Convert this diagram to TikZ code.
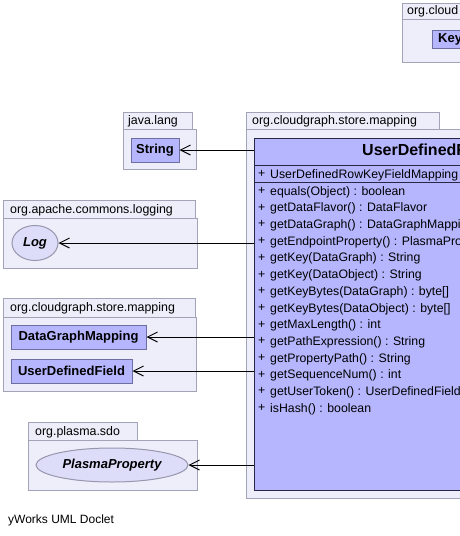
\documentclass[tikz,border=0pt]{standalone}
\usepackage{fontspec}
\setmainfont{Liberation Sans}
\usetikzlibrary{arrows.meta,shapes.geometric}
\definecolor{pkgfill}{RGB}{238,238,250}
\definecolor{pkgline}{RGB}{163,163,184}
\definecolor{clsfill}{RGB}{182,182,255}
\definecolor{clsline}{RGB}{110,110,160}
\definecolor{clsdark}{RGB}{40,40,70}
\definecolor{itffill}{RGB}{221,221,250}
\definecolor{itfline}{RGB}{150,150,172}
\tikzset{
  pkg/.style={draw=pkgline, fill=pkgfill, line width=1pt},
  pkgname/.style={anchor=west, inner sep=0pt, font=\fontsize{12.4}{14}\selectfont},
  cls/.style={draw=clsline, fill=clsfill, line width=1pt, inner sep=0pt, font=\fontsize{13}{15}\selectfont\bfseries},
  itf/.style={ellipse, draw=itfline, fill=itffill, line width=1pt, inner sep=0pt, font=\fontsize{13}{15}\selectfont\bfseries\itshape},
  member/.style={anchor=west, inner sep=0pt, font=\fontsize{12.3}{14}\selectfont},
  dep/.style={draw, line width=0.9pt, -{Straight Barb[length=10pt,width=10pt]}},
}
\begin{document}
\begin{tikzpicture}[x=1pt, y=-1pt]
        \useasboundingbox (0,0) rectangle (460,536);
        \clip (0,0) rectangle (460,536);
        % packages
        \draw[pkg] (402,3) rectangle (480,19) (402,19) rectangle (500,62);
        \draw[pkg] (123,112) rectangle (192,129) (123,129) rectangle (196,169);
        \draw[pkg] (246,112) rectangle (439,129) (246,129) rectangle (500,498);
        \draw[pkg] (3,200) rectangle (195,218) (3,218) rectangle (197,268);
        \draw[pkg] (3,298) rectangle (195,317) (3,317) rectangle (196,391);
        \draw[pkg] (28,422) rectangle (137,440) (28,440) rectangle (197,490);
        % package names
        \node[pkgname] (ncloud) at (407,11) {org.cloud};
        \node[pkgname] (njava) at (128,121) {java.lang};
        \node[pkgname] (nmain) at (252,121) {org.cloudgraph.store.mapping};
        \node[pkgname] (nlog) at (10,210) {org.apache.commons.logging};
        \node[pkgname] (nmap) at (10,308) {org.cloudgraph.store.mapping};
        \node[pkgname] (nsdo) at (35,432) {org.plasma.sdo};
        % classes
        \node[cls, minimum width=68, minimum height=18, anchor=north west] (key) at (432,30) {};
        \node[font=\fontsize{13}{15}\selectfont\bfseries, anchor=west, inner sep=0pt] at (438,39) {Key};
        \node[cls, minimum width=48, minimum height=24] (str) at (155,150) {String};
        \node[itf, minimum width=46, minimum height=35] (log) at (35,243) {Log};
        \node[cls, minimum width=135, minimum height=24] (dgm) at (78.5,337) {DataGraphMapping};
        \node[cls, minimum width=121, minimum height=24] (udf) at (71.5,371) {UserDefinedField};
        \node[itf, minimum width=152, minimum height=34] (pp) at (112,465) {PlasmaProperty};
        % main class
        \node[cls, draw=clsdark, minimum width=476, minimum height=352, anchor=north west] (main) at (254,138) {};
        \draw[clsdark, line width=1pt] (254,165) -- (730,165) (254,182) -- (730,182);
        \node[font=\fontsize{16}{18}\selectfont\bfseries, anchor=west, inner sep=0pt] (title) at (362,151) {UserDefinedRowKeyFieldMapping};
        \node[member] at (258,174) {+};
        \node[member] (ctor) at (270,175) {UserDefinedRowKeyFieldMapping};
        \foreach \m [count=\i from 0] in {equals(Object) : boolean, getDataFlavor() : DataFlavor,
            getDataGraph() : DataGraphMapping, getEndpointProperty() : PlasmaProperty,
            getKey(DataGraph) : String, getKey(DataObject) : String,
            getKeyBytes(DataGraph) : byte[], getKeyBytes(DataObject) : byte[],
            getMaxLength() : int, getPathExpression() : String, getPropertyPath() : String,
            getSequenceNum() : int, getUserToken() : UserDefinedField, isHash() : boolean}
          {
            \node[member] at (258,{191+16.7*\i}) {+};
            \node[member] (m\i) at (270,{192+16.7*\i}) {\m};
          }
        % edges
        \draw[dep] (main.west |- str.east) -- (str.east);
        \draw[dep] (main.west |- log.east) -- (log.east);
        \draw[dep] (main.west |- dgm.east) -- (dgm.east);
        \draw[dep] (main.west |- udf.east) -- (udf.east);
        \draw[dep] (main.west |- pp.east) -- (pp.east);
        % other
        \node[pkgname, font=\fontsize{12}{14}\selectfont] (doclet) at (8,520) {yWorks UML Doclet};
      \end{tikzpicture}
\end{document}
